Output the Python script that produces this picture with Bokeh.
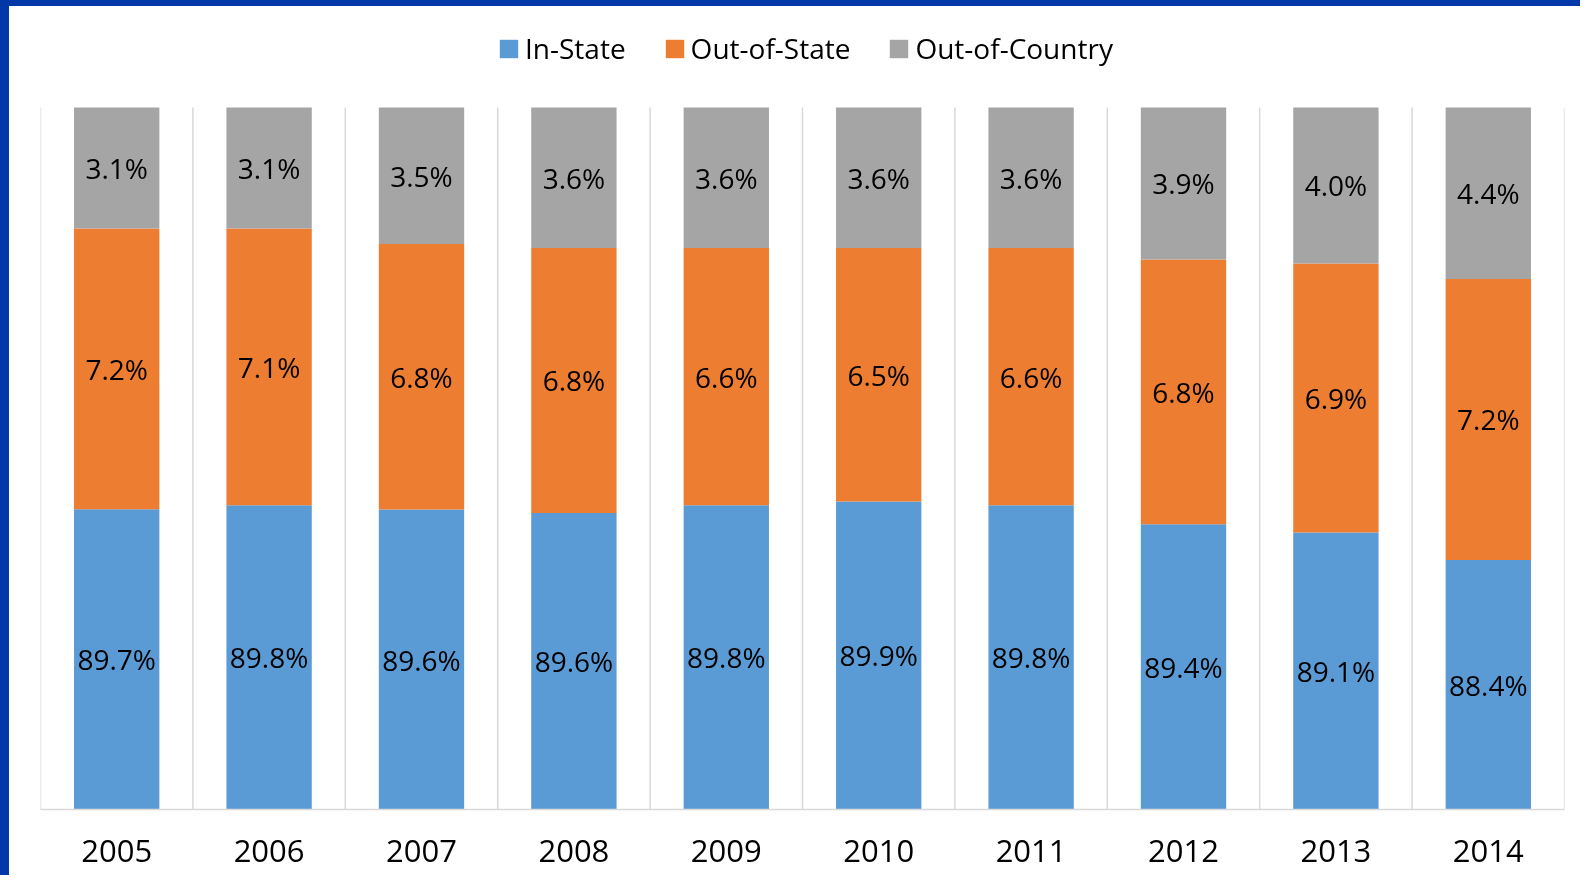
from bokeh.plotting import figure
from bokeh.models import ColumnDataSource, FactorRange, Range1d, Legend, LegendItem
from bokeh.core.properties import value
from bokeh.embed import file_html
from bokeh.resources import INLINE

years = ["2005", "2006", "2007", "2008", "2009", "2010", "2011", "2012", "2013", "2014"]
in_state = [89.7, 89.8, 89.6, 89.6, 89.8, 89.9, 89.8, 89.4, 89.1, 88.4]
out_state = [7.2, 7.1, 6.8, 6.8, 6.6, 6.5, 6.6, 6.8, 6.9, 7.2]
out_country = [3.1, 3.1, 3.5, 3.6, 3.6, 3.6, 3.6, 3.9, 4.0, 4.4]
series_names = ["In-State", "Out-of-State", "Out-of-Country"]
colors = ["#5B9BD5", "#ED7D31", "#A5A5A5"]
y_min, y_max = 82, 100
y_view_top = 102.23  # extra room above the axis max for the legend

# 100% stacked: normalise each year's shares
keys = ["ins", "oos", "ooc"]
raw = [in_state, out_state, out_country]
data = {"year": years}
for k in keys:
    data[k] = []
for i in range(len(years)):
    tot = sum(r[i] for r in raw)
    for k, r in zip(keys, raw):
        data[k].append(r[i] / tot * 100)
src = ColumnDataSource(data)

# label positions: centre of visible part of each segment
lx, ly, lt = [], [], []
for i, yr in enumerate(years):
    cum = 0.0
    for k, r in zip(keys, raw):
        top = cum + data[k][i]
        lo = max(cum, y_min)
        hi = min(top, y_max)
        lx.append(yr)
        ly.append((lo + hi) / 2)
        lt.append("%.1f%%" % r[i])
        cum = top
lab_src = ColumnDataSource(dict(x=lx, y=ly, t=lt))

p = figure(
    x_range=FactorRange(*years, range_padding=0),
    y_range=Range1d(y_min, y_view_top),
    width=1580, height=875,
    output_backend="svg", toolbar_location=None,
    min_border_left=31, min_border_right=25, min_border_top=14, min_border_bottom=72,
    styles={"position": "fixed", "left": "0px", "top": "0px",
            "border-left": "9px solid #0038A8", "border-top": "6px solid #0038A8"},
)
p.background_fill_color = "white"
p.border_fill_color = "white"
p.outline_line_color = None
p.grid.visible = False
p.yaxis.visible = False

# vertical separators between categories (category boundaries)
bounds = list(range(len(years) + 1))
p.segment(x0=bounds, y0=[y_min] * len(bounds), x1=bounds, y1=[y_max] * len(bounds),
          line_color="#D9D9D9", line_width=1.5)

rs = p.vbar_stack(keys, x="year", width=0.56, color=colors, source=src, line_width=0)

p.text(x="x", y="y", text="t", source=lab_src, text_font=value("Open Sans"),
       text_font_size="28px", text_align="center", text_baseline="middle", text_color="black")

ax = p.xaxis[0]
ax.axis_line_color = "#D9D9D9"
ax.axis_line_width = 1.5
ax.major_tick_line_color = None
ax.minor_tick_line_color = None
ax.major_label_text_font = "Open Sans"
ax.major_label_text_font_size = "31px"
ax.major_label_text_color = "black"
ax.major_label_standoff = 24

items = [LegendItem(label=n, renderers=[r]) for n, r in zip(series_names, rs)]
legend = Legend(items=items, orientation="horizontal", location=(457, 742),
                glyph_width=23, glyph_height=23, label_standoff=5, spacing=37,
                padding=0, margin=0, border_line_color=None, background_fill_alpha=0,
                label_text_font="Open Sans", label_text_font_size="28px",
                label_text_color="black")
p.add_layout(legend, "center")

open("out.html", "w").write(file_html(p, INLINE))
